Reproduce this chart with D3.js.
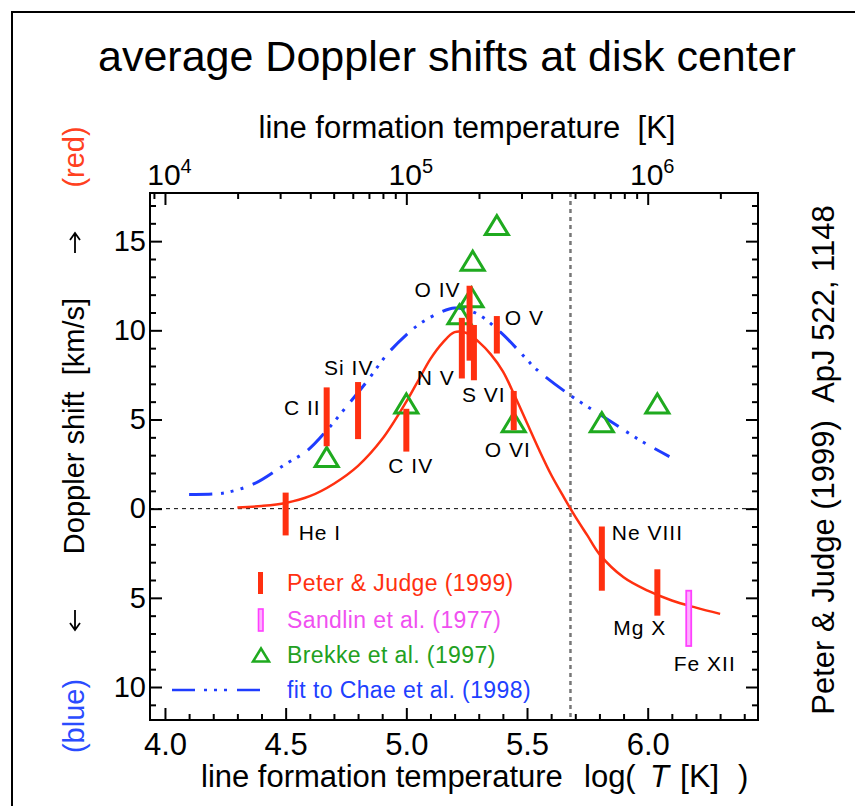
<!DOCTYPE html>
<html><head><meta charset="utf-8">
<script src="https://cdn.jsdelivr.net/npm/d3@7"></script>
<style>
html,body{margin:0;padding:0;background:#fff;}
svg{display:block;}
text{font-family:"Liberation Sans",Arial,Helvetica,sans-serif;}
</style></head><body>
<svg id="chart" width="855" height="806"></svg>
<script>
// Peter & Judge (1999): Doppler shift range per ion (km/s, positive = redshift)
const pjIons = ["He I", "C II", "Si IV", "C IV", "N V", "O IV", "S VI", "O V", "O VI", "Ne VIII", "Mg X"];
const pjLogT = [4.50, 4.67, 4.80, 5.00, 5.23, 5.262, 5.28, 5.375, 5.445, 5.81, 6.04];
const pjLow  = [-1.5, 3.5, 3.9, 3.2, 7.3, 8.3, 7.2, 8.7, 4.4, -4.6, -6.0];
const pjHigh = [0.9, 6.8, 7.1, 5.6, 10.7, 12.5, 10.3, 10.8, 6.6, -1.0, -3.4];

// Sandlin et al. (1977)
const sandlinIons = ["Fe XII"];
const sandlinLogT = [6.17];
const sandlinLow  = [-7.7];
const sandlinHigh = [-4.6];

// Brekke et al. (1997)
const brekkeLogT  = [4.67, 5.00, 5.22, 5.27, 5.275, 5.375, 5.445, 5.81, 6.04];
const brekkeShift = [2.9, 5.9, 10.9, 11.85, 13.9, 15.9, 4.85, 4.85, 5.9];

// empirical fit through the Peter & Judge points
const fitLogT  = [4.30, 4.40, 4.50, 4.60, 4.70, 4.80, 4.90, 5.00, 5.05, 5.10, 5.15, 5.20, 5.25, 5.30, 5.35, 5.40, 5.45, 5.50, 5.55, 5.60, 5.65, 5.70, 5.75, 5.80, 5.90, 6.00, 6.10, 6.20, 6.30];
const fitShift = [0.07, 0.15, 0.32, 0.70, 1.40, 2.40, 3.90, 6.00, 7.20, 8.40, 9.30, 9.90, 9.85, 9.35, 8.65, 7.70, 6.30, 4.80, 3.30, 1.90, 0.70, -0.45, -1.50, -2.55, -3.85, -4.60, -5.15, -5.55, -5.90];

// fit to Chae et al. (1998)
const chaeLogT  = [4.10, 4.20, 4.26, 4.37, 4.50, 4.59, 4.67, 4.75, 4.84, 4.92, 5.00, 5.06, 5.14, 5.20, 5.29, 5.39, 5.49, 5.54, 5.68, 5.82, 5.97, 6.09];
const chaeShift = [0.80, 0.82, 0.92, 1.40, 2.50, 3.26, 4.38, 5.69, 7.19, 8.65, 9.75, 10.4, 11.0, 11.25, 10.95, 9.9, 8.5, 7.8, 6.35, 5.13, 3.82, 2.92];

// axis ticks
const xMajorTicks = [4.0, 4.5, 5.0, 5.5, 6.0];
const yMajorTicks = [-10, -5, 0, 5, 10, 15];
const topMajorTicks = [1e4, 1e5, 1e6];
const zeroCrossLogT = 5.68;

// label placement for the ion names (offset from bar position / text anchor)
const pjLabelPlace = [
  {dx: 13, y: 540, anchor: "start"},
  {dx: -6, y: 415, anchor: "end"},
  {dx: -34, y: 375, anchor: "start"},
  {dx: -18, y: 473, anchor: "start"},
  {dx: -45, y: 385, anchor: "start"},
  {dx: -55, y: 297, anchor: "start"},
  {dx: -12, y: 402, anchor: "start"},
  {dx: 8, y: 325, anchor: "start"},
  {dx: -29, y: 457, anchor: "start"},
  {dx: 10, y: 540, anchor: "start"},
  {dx: -44, y: 635, anchor: "start"}
];
const sandlinLabelPlace = [{dx: -15, y: 671, anchor: "start"}];

const RED = "#ff3010", MAGENTA = "#ff40ff", GREEN = "#1faa1f", BLUE = "#1f3cff";

const svg = d3.select("#chart");
const P = {left: 150, right: 758, top: 193, bottom: 720};

const x = d3.scaleLinear().domain([3.938, 6.457]).range([P.left, P.right]);
const xTop = d3.scaleLog().domain([Math.pow(10, 3.938), Math.pow(10, 6.457)]).range([P.left, P.right]);
const y = d3.scaleLinear().domain([-11.85, 17.7]).range([P.bottom, P.top]);

// outer frame
svg.append("rect").attr("x", 12).attr("y", 12).attr("width", 900).attr("height", 900)
  .attr("fill", "none").attr("stroke", "#000").attr("stroke-width", 2);

// title
svg.append("text").attr("x", 447).attr("y", 71).attr("text-anchor", "middle")
  .attr("font-size", 43).attr("fill", "#000").text("average Doppler shifts at disk center");

// reference lines
svg.append("line").attr("x1", P.left).attr("x2", P.right).attr("y1", y(0)).attr("y2", y(0))
  .attr("stroke", "#000").attr("stroke-width", 1).attr("stroke-dasharray", "4,4");
svg.append("line").attr("x1", x(zeroCrossLogT)).attr("x2", x(zeroCrossLogT)).attr("y1", P.top).attr("y2", P.bottom)
  .attr("stroke", "#777").attr("stroke-width", 2.5).attr("stroke-dasharray", "4,4");

// axes
function styleAxis(g) {
  g.select(".domain").remove();
  g.selectAll(".tick line").attr("stroke", "#000").attr("stroke-width", 2);
  g.selectAll(".tick text").attr("fill", "#000").attr("font-family", '"Liberation Sans",Arial,sans-serif');
}
const xMinor = d3.range(39, 65).map(d => d / 10).filter(d => d >= 3.938 && d <= 6.457 && !xMajorTicks.some(m => Math.abs(m - d) < 1e-6));
const yMinor = d3.range(-11, 18).filter(d => !yMajorTicks.includes(d));
const topMinor = [];
[1e3, 1e4, 1e5, 1e6].forEach(dec => { for (let k = 2; k <= 9; k++) { const v = k * dec; if (v >= xTop.domain()[0] && v <= xTop.domain()[1]) topMinor.push(v); } });

svg.append("g").attr("transform", `translate(0,${P.bottom})`)
  .call(d3.axisBottom(x).tickValues(xMajorTicks).tickSize(-12).tickPadding(13).tickFormat(d3.format(".1f")))
  .call(styleAxis).selectAll("text").attr("font-size", 31);
svg.append("g").attr("transform", `translate(0,${P.bottom})`)
  .call(d3.axisBottom(x).tickValues(xMinor).tickSize(-6).tickFormat(""))
  .call(styleAxis);

const topAxis = svg.append("g").attr("transform", `translate(0,${P.top})`)
  .call(d3.axisTop(xTop).tickValues(topMajorTicks).tickSize(-12).tickPadding(8).tickFormat(""))
  .call(styleAxis);
topAxis.selectAll(".tick text").each(function (d) {
  const t = d3.select(this).attr("font-size", 30).attr("dx", 4);
  t.append("tspan").text("10");
  t.append("tspan").attr("font-size", 20).attr("dy", -12).text(Math.round(Math.log10(d)));
});
svg.append("g").attr("transform", `translate(0,${P.top})`)
  .call(d3.axisTop(xTop).tickValues(topMinor).tickSize(-6).tickFormat(""))
  .call(styleAxis);

svg.append("g").attr("transform", `translate(${P.left},0)`)
  .call(d3.axisLeft(y).tickValues(yMajorTicks).tickSize(-12).tickPadding(4).tickFormat(d => Math.abs(d)))
  .call(styleAxis).selectAll("text").attr("font-size", 29);
svg.append("g").attr("transform", `translate(${P.left},0)`)
  .call(d3.axisLeft(y).tickValues(yMinor).tickSize(-6).tickFormat(""))
  .call(styleAxis);
svg.append("g").attr("transform", `translate(${P.right},0)`)
  .call(d3.axisRight(y).tickValues(yMajorTicks).tickSize(-12).tickFormat(""))
  .call(styleAxis);
svg.append("g").attr("transform", `translate(${P.right},0)`)
  .call(d3.axisRight(y).tickValues(yMinor).tickSize(-6).tickFormat(""))
  .call(styleAxis);

// plot frame
svg.append("rect").attr("x", P.left).attr("y", P.top).attr("width", P.right - P.left).attr("height", P.bottom - P.top)
  .attr("fill", "none").attr("stroke", "#000").attr("stroke-width", 2);

// axis titles
svg.append("text").attr("x", 467).attr("y", 138).attr("text-anchor", "middle").attr("font-size", 31)
  .text("line formation temperature\u00a0\u00a0[K]");

const SERIF = '"Liberation Serif","Times New Roman",serif';
const xt = svg.append("g").attr("font-size", 31);
xt.append("text").attr("x", 201).attr("y", 787).text("line formation temperature");
xt.append("text").attr("x", 584).attr("y", 787).text("log(");
xt.append("text").attr("x", 650).attr("y", 787).attr("font-family", SERIF).attr("font-style", "italic").attr("font-size", 31).text("T");
xt.append("text").attr("x", 680).attr("y", 787).attr("font-family", SERIF).attr("font-size", 32).text("[K]");
xt.append("text").attr("x", 738).attr("y", 787).text(")");

function vText(cx, cy, str, color, size) {
  svg.append("text").attr("transform", `translate(${cx},${cy}) rotate(-90)`).attr("text-anchor", "middle")
    .attr("font-size", size).attr("fill", color).text(str);
}
vText(84, 157, "(red)", "#ff4020", 29);
vText(84, 426, "Doppler shift\u00a0\u00a0[km/s]", "#000", 29);
vText(84, 716, "(blue)", "#2a4cff", 29);
vText(834, 460, "Peter & Judge (1999)\u00a0\u00a0ApJ 522, 1148", "#000", 31);

// red / blue direction arrows
function arrow(cx, cy, dir) {
  const tip = cy - dir * 10, tail = cy + dir * 10;
  svg.append("path")
    .attr("d", `M${cx},${tail}L${cx},${tip}M${cx - 5},${tip + dir * 7}L${cx},${tip}L${cx + 5},${tip + dir * 7}`)
    .attr("fill", "none").attr("stroke", "#000").attr("stroke-width", 1.8);
}
arrow(75, 243, 1);
arrow(75, 620, -1);

// fits
const line = d3.line().x(d => x(d[0])).y(d => y(d[1])).curve(d3.curveCatmullRom);
svg.append("path").datum(chaeLogT.map((t, i) => [t, chaeShift[i]])).attr("d", line)
  .attr("fill", "none").attr("stroke", BLUE).attr("stroke-width", 3).attr("stroke-dasharray", "23,9,3,7,3,7,3,10");
svg.append("path").datum(fitLogT.map((t, i) => [t, fitShift[i]])).attr("d", line)
  .attr("fill", "none").attr("stroke", RED).attr("stroke-width", 2.5);

// Brekke triangles
const tri = (cx, cy, w, h) => `M${cx - w / 2},${cy + h / 2}L${cx + w / 2},${cy + h / 2}L${cx},${cy - h / 2}Z`;
svg.append("g").selectAll("path").data(brekkeLogT.map((t, i) => [t, brekkeShift[i]])).join("path")
  .attr("d", d => tri(x(d[0]), y(d[1]), 23, 19))
  .attr("fill", "none").attr("stroke", GREEN).attr("stroke-width", 3).attr("stroke-linejoin", "miter");

// Peter & Judge bars
svg.append("g").selectAll("rect").data(pjLogT.map((t, i) => ({t, lo: pjLow[i], hi: pjHigh[i]}))).join("rect")
  .attr("x", d => x(d.t) - 3).attr("width", 6)
  .attr("y", d => y(d.hi)).attr("height", d => y(d.lo) - y(d.hi)).attr("fill", RED);

// Sandlin bars (open)
svg.append("g").selectAll("rect").data(sandlinLogT.map((t, i) => ({t, lo: sandlinLow[i], hi: sandlinHigh[i]}))).join("rect")
  .attr("x", d => x(d.t) - 2.5).attr("width", 5)
  .attr("y", d => y(d.hi)).attr("height", d => y(d.lo) - y(d.hi))
  .attr("fill", "#ffb0ff").attr("stroke", MAGENTA).attr("stroke-width", 1.8);

// ion labels
const labG = svg.append("g").attr("font-size", 21).attr("letter-spacing", 1).attr("fill", "#000");
pjIons.forEach((name, i) => {
  labG.append("text").attr("x", x(pjLogT[i]) + pjLabelPlace[i].dx).attr("y", pjLabelPlace[i].y)
    .attr("text-anchor", pjLabelPlace[i].anchor).text(name);
});
sandlinIons.forEach((name, i) => {
  labG.append("text").attr("x", x(sandlinLogT[i]) + sandlinLabelPlace[i].dx).attr("y", sandlinLabelPlace[i].y)
    .attr("text-anchor", sandlinLabelPlace[i].anchor).text(name);
});

// legend
const lg = svg.append("g");
const legendText = ["Peter & Judge (1999)", "Sandlin et al. (1977)", "Brekke et al. (1997)", "fit to Chae et al. (1998)"];
const legendColor = [RED, "#f050f0", "#22a022", "#2040ff"];
const legendY = [583, 620, 655, 690];
legendText.forEach((s, i) => {
  lg.append("text").attr("x", 287).attr("y", legendY[i] + 8).attr("font-size", 23).attr("letter-spacing", 0.4)
    .attr("fill", legendColor[i]).text(s);
});
lg.append("rect").attr("x", 258).attr("y", legendY[0] - 11).attr("width", 5).attr("height", 22).attr("fill", RED);
lg.append("rect").attr("x", 258.5).attr("y", legendY[1] - 11).attr("width", 4.5).attr("height", 22)
  .attr("fill", "#ffb0ff").attr("stroke", MAGENTA).attr("stroke-width", 1.6);
lg.append("path").attr("d", tri(261, legendY[2], 16, 13)).attr("fill", "none").attr("stroke", GREEN).attr("stroke-width", 2.5);
lg.append("line").attr("x1", 172).attr("x2", 261).attr("y1", legendY[3]).attr("y2", legendY[3])
  .attr("stroke", BLUE).attr("stroke-width", 2.5).attr("stroke-dasharray", "23,9,3,7,3,7,3,10");
</script>
</body></html>
